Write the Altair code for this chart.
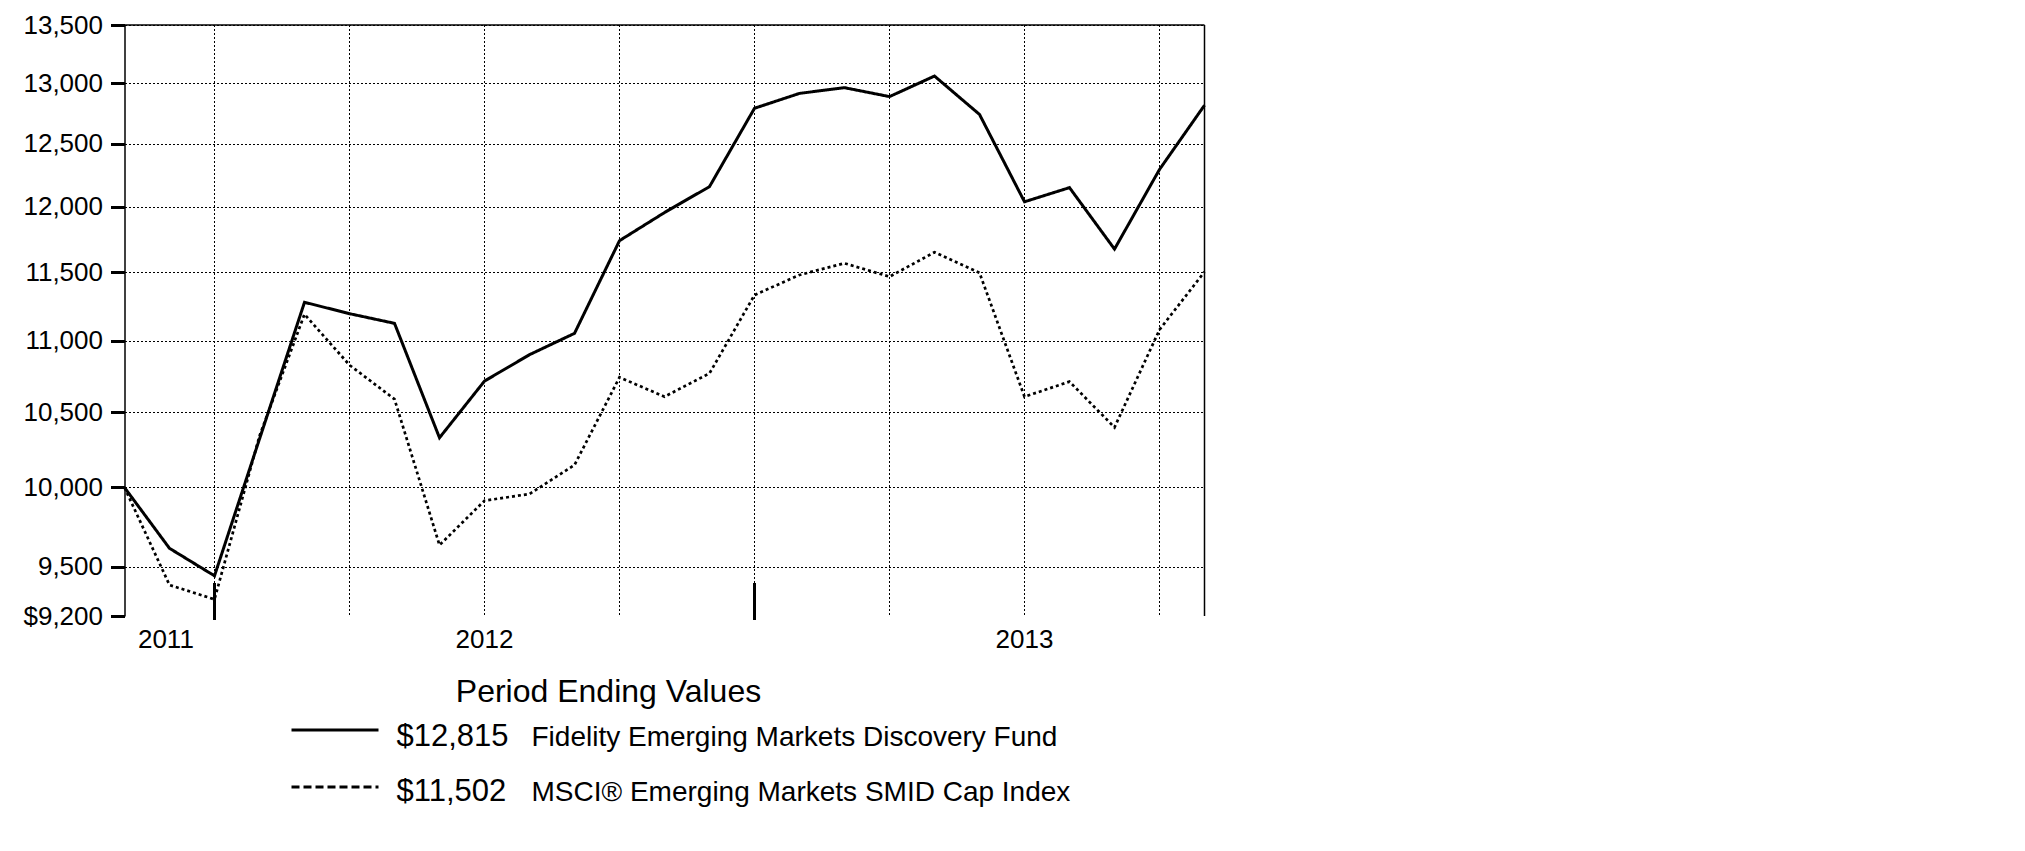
import altair as alt
import pandas as pd

# ---------------- data ----------------
months = ["Oct 2011", "Nov 2011", "Dec 2011", "Jan 2012", "Feb 2012", "Mar 2012",
          "Apr 2012", "May 2012", "Jun 2012", "Jul 2012", "Aug 2012", "Sep 2012",
          "Oct 2012", "Nov 2012", "Dec 2012", "Jan 2013", "Feb 2013", "Mar 2013",
          "Apr 2013", "May 2013", "Jun 2013", "Jul 2013", "Aug 2013", "Sep 2013",
          "Oct 2013"]
fund_values = [10000, 9613, 9443, 10320, 11277, 11194, 11124, 10328, 10715, 10900,
               11052, 11737, 11953, 12156, 12790, 12914, 12962, 12887, 13060, 12739,
               12037, 12148, 11673, 12292, 12815]
index_values = [10000, 9387, 9300, 10340, 11190, 10827, 10590, 9633, 9915, 9958,
                10147, 10741, 10607, 10769, 11330, 11479, 11566, 11466, 11649, 11495,
                10607, 10711, 10398, 11078, 11502]
series_names = ["Fidelity Emerging Markets Discovery Fund",
                "MSCI® Emerging Markets SMID Cap Index"]
y_ticks = [9200, 9500, 10000, 10500, 11000, 11500, 12000, 12500, 13000, 13500]
grid_months = [2, 5, 8, 11, 14, 17, 20, 23]        # quarter-end gridlines
year_end_months = [2, 14]                          # heavy year-end marks
year_labels = ["2011", "2012", "2013"]
year_label_pos = [0.92, 8, 20]
legend_title = "Period Ending Values"

FONT = "Liberation Sans"
W, H = 1080, 591

rows = []
for name, vals in zip(series_names, [fund_values, index_values]):
    for i, (m, v) in enumerate(zip(months, vals)):
        rows.append({"i": i, "month": m, "value": v, "series": name})
df = pd.DataFrame(rows)

x_scale = alt.Scale(domain=[0, len(months) - 1], nice=False, zero=False)
y_scale = alt.Scale(type="log", domain=[y_ticks[0], y_ticks[-1]], nice=False)

y_axis = alt.Axis(values=y_ticks,
                  labelExpr="datum.value == 9200 ? '$9,200' : format(datum.value, ',')",
                  labelFont=FONT, labelFontSize=26, labelColor="black",
                  labelPadding=8, tickSize=14, tickWidth=3, tickColor="black",
                  domainColor="black", domainWidth=1.5,
                  grid=True, gridDash=[2, 2], gridColor="black", gridWidth=1,
                  gridOpacity={"condition": {"test": "datum.value === 9200", "value": 0}, "value": 1},
                  title=None)

# vertical quarter gridlines
g_df = pd.DataFrame({"g": grid_months})
vgrid = alt.Chart(g_df).mark_rule(color="black", strokeWidth=1, strokeDash=[2, 2]).encode(
    x=alt.X("g:Q", scale=x_scale, axis=None),
    y=alt.value(0), y2=alt.value(H),
)

lines = alt.Chart(df).mark_line(color="black", strokeJoin="miter").encode(
    x=alt.X("i:Q", scale=x_scale, axis=None),
    y=alt.Y("value:Q", scale=y_scale, axis=y_axis),
    detail="series:N",
    strokeDash=alt.StrokeDash("series:N",
                              scale=alt.Scale(domain=series_names, range=[[1, 0], [3, 3]]),
                              legend=None),
    strokeWidth=alt.StrokeWidth("series:N",
                                scale=alt.Scale(domain=series_names, range=[3, 2.7]),
                                legend=None),
)

# heavy year-end marks
ye_df = pd.DataFrame({"m": year_end_months})
year_ticks = alt.Chart(ye_df).mark_rule(color="black", strokeWidth=3).encode(
    x=alt.X("m:Q", scale=x_scale, axis=None),
    y=alt.value(H - 33), y2=alt.value(H + 4),
)

# year labels
yl_df = pd.DataFrame({"label": year_labels, "pos": year_label_pos})
year_text = alt.Chart(yl_df).mark_text(font=FONT, fontSize=26, baseline="top",
                                       align="center", color="black").encode(
    x=alt.X("pos:Q", scale=x_scale, axis=None),
    y=alt.value(H + 11),
    text="label:N",
)

# frame: top and right
one = pd.DataFrame({"k": [0]})
top_rule = alt.Chart(one).mark_rule(color="black", strokeWidth=1.5).encode(
    x=alt.value(0), x2=alt.value(W), y=alt.value(0))
right_rule = alt.Chart(one).mark_rule(color="black", strokeWidth=1.5).encode(
    x=alt.value(W), y=alt.value(0), y2=alt.value(H))

# legend
title_df = pd.DataFrame({"t": [legend_title]})
legend_title_mark = alt.Chart(title_df).mark_text(
    font=FONT, fontSize=32, align="center", baseline="alphabetic", color="black"
).encode(x=alt.value(484), y=alt.value(677), text="t:N")

legend_layers = []
row_y = [721, 776]
line_y = [705, 762]
dashes = [[1, 0], [8, 4]]
for k, (name, vals) in enumerate(zip(series_names, [fund_values, index_values])):
    ldf = pd.DataFrame({"val": ["${:,}".format(vals[-1])], "name": [name]})
    legend_layers.append(
        alt.Chart(ldf).mark_rule(color="black", strokeWidth=3, strokeDash=dashes[k]).encode(
            x=alt.value(167), x2=alt.value(254), y=alt.value(line_y[k])))
    legend_layers.append(
        alt.Chart(ldf).mark_text(font=FONT, fontSize=31, align="left",
                                 baseline="alphabetic", color="black").encode(
            x=alt.value(272), y=alt.value(row_y[k]), text="val:N"))
    legend_layers.append(
        alt.Chart(ldf).mark_text(font=FONT, fontSize=28, align="left",
                                 baseline="alphabetic", color="black").encode(
            x=alt.value(407), y=alt.value(row_y[k]), text="name:N"))

chart = alt.layer(vgrid, lines, year_ticks, year_text, top_rule, right_rule,
                  legend_title_mark, *legend_layers).properties(
    width=W, height=H,
    autosize=alt.AutoSizeParams(type="none"),
    padding={"left": 116.5, "top": 17, "right": 60, "bottom": 225},
    background="white",
).configure_view(stroke=None)

chart.save("out.html", embed_options={"renderer": "svg", "actions": False})
